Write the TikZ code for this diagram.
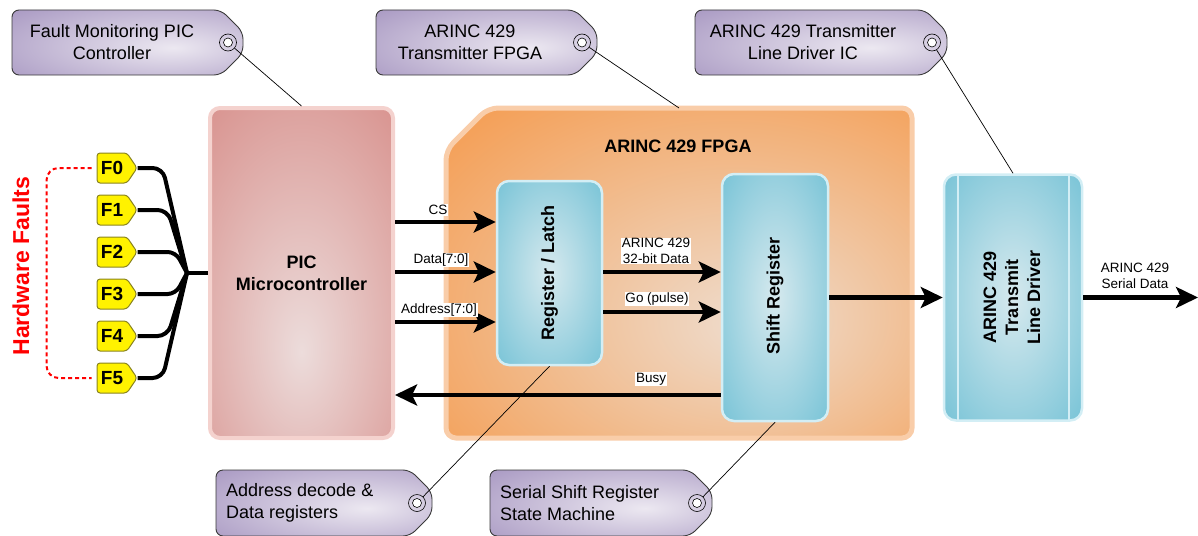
\documentclass[tikz,border=0pt]{standalone}
\usepackage{fontspec}
\setmainfont{Liberation Sans}
\usetikzlibrary{arrows.meta,calc,shapes.symbols}
\definecolor{tagin}{HTML}{ECE8F1}
\definecolor{tagout}{HTML}{A898C2}
\definecolor{tagline}{HTML}{3A3A3A}
\definecolor{pinkin}{HTML}{ECDCDB}
\definecolor{pinkout}{HTML}{D8918D}
\definecolor{pinkborder}{HTML}{F4D2CE}
\definecolor{orin}{HTML}{EEDDCF}
\definecolor{orout}{HTML}{F4A15A}
\definecolor{orborder}{HTML}{F9CDA9}
\definecolor{bluein}{HTML}{D6E9EE}
\definecolor{blueout}{HTML}{6DBFD4}
\definecolor{blueborder}{HTML}{D3EEF5}
\definecolor{ftagborder}{HTML}{8A8420}
\pgfdeclareradialshading{tagsh}{\pgfpoint{10bp}{-4bp}}{color(0bp)=(tagin); color(42bp)=(tagout); color(90bp)=(tagout)}
\pgfdeclareradialshading{picsh}{\pgfpoint{0bp}{-12bp}}{color(0bp)=(pinkin); color(42bp)=(pinkout); color(90bp)=(pinkout)}
\pgfdeclareradialshading{fpgash}{\pgfpoint{8bp}{-8bp}}{color(0bp)=(orin); color(38bp)=(orout); color(90bp)=(orout)}
\pgfdeclareradialshading{bluesh}{\pgfpoint{0bp}{0bp}}{color(0bp)=(bluein); color(40bp)=(blueout); color(90bp)=(blueout)}
\newcommand\mytag[5]{%
  \draw[tagbox] ({#4-22},#3) -- (#2,#3) -- (#2,#5) -- ({#4-22},#5) -- (#4,{#5-22}) -- (#4,{#3+22}) -- cycle;
  \node[holeout] (#1) at ({#4-15},{(#3+#5)/2}) {};
  \node[holein] at (#1) {};
}
\begin{document}
\begin{tikzpicture}[x=1pt,y=-1pt,
  tagbox/.style={draw=tagline, line width=0.9pt, shading=tagsh, rounded corners=7pt},
  holeout/.style={circle, draw=black, line width=0.6pt, minimum size=17pt, inner sep=0pt},
  holein/.style={circle, draw=black, fill=white, line width=0.6pt, minimum size=9pt, inner sep=0pt},
  tagtext/.style={font=\fontsize{18}{22}\selectfont, inner sep=0pt},
  leader/.style={line width=0.7pt, draw=black},
  bold18/.style={font=\bfseries\fontsize{18}{22}\selectfont, align=center, inner sep=0pt},
  picbox/.style={draw=pinkborder, line width=4pt, shading=picsh, rounded corners=10pt},
  fpgabox/.style={draw=orborder, line width=5pt, shading=fpgash, rounded corners=10pt},
  bluebox/.style={draw=blueborder, line width=2.5pt, shading=bluesh, rounded corners=12pt},
  bus/.style={line width=4.5pt, -{Stealth[length=22pt,width=21pt,inset=5pt]}},
  lbl/.style={fill=white, inner sep=0.8pt, font=\fontsize{13.5}{15.5}\selectfont, align=center},
  ftag/.style={shape=signal, signal to=east, signal pointer angle=112, draw=ftagborder, fill=yellow,
     line width=1pt, minimum width=40pt, minimum height=30pt, inner sep=0pt,
     font=\bfseries\fontsize{19}{22}\selectfont, rounded corners=3pt},
  fline/.style={line width=4pt, rounded corners=10pt}
]
\useasboundingbox (0,0) rectangle (1198,535);

% main blocks
\node[picbox, minimum width=183pt, minimum height=330pt] (pic) at (301.5,273) {};
\node[bold18] (pict) at (301.5,273) {PIC\\Microcontroller};

\node[minimum width=466pt, minimum height=330pt, inner sep=0pt, outer sep=0pt] (fpga) at (679,273) {};
\draw[fpgabox] ($(fpga.north west)+(42,0)$) -- (fpga.north east) -- (fpga.south east)
  -- (fpga.south west) -- ($(fpga.north west)+(0,42)$) -- cycle;
\node[bold18] (fpgat) at (678,146) {ARINC 429 FPGA};

\node[bluebox, minimum width=105pt, minimum height=184pt] (reg) at (549.5,273) {};
\node[bold18, rotate=90] (regt) at (549.5,273) {Register / Latch};

\node[bluebox, minimum width=106pt, minimum height=247pt] (shift) at (775,297.5) {};
\node[bold18, rotate=90] (shiftt) at (775,296) {Shift Register};

\node[bluebox, minimum width=138pt, minimum height=246pt] (drv) at (1013,297.5) {};
\draw[draw=blueborder, line width=2pt] ($(drv.north west)+(15,1)$) -- ($(drv.south west)+(15,-1)$);
\draw[draw=blueborder, line width=2pt] ($(drv.north east)+(-14,1)$) -- ($(drv.south east)+(-14,-1)$);
\node[bold18, rotate=90] (drvt) at (1012,297.5) {ARINC 429\\Transmit\\Line Driver};

% fault inputs
\foreach \i/\y in {0/168,1/210,2/252,3/294,4/336,5/378}{
  \node[ftag] (f\i) at (112,\y) {F\i};
}
\coordinate (jn) at (187,273);
\draw[fline] (f0.east) -- ++(25,0) -- (jn);
\draw[fline] (f1.east) -- ++(30,0) -- (jn);
\draw[fline, rounded corners=8pt] (f2.east) -- ++(38,0) -- (jn);
\draw[fline, rounded corners=8pt] (f3.east) -- ++(38,0) -- (jn);
\draw[fline] (f4.east) -- ++(30,0) -- (jn);
\draw[fline] (f5.east) -- ++(25,0) -- (jn);
\draw[line width=4pt] (jn) -- (jn -| pic.west);

\draw[red, line width=2pt, dash pattern=on 4pt off 3pt, rounded corners=12pt]
  ($(f0.west)+(-5,0)$) -- ++(-45,0) |- ($(f5.west)+(-5,0)$);
\node[text=red, font=\bfseries\fontsize{23}{26}\selectfont, rotate=90, inner sep=0pt] (hw) at (21,266) {Hardware Faults};

% buses
\draw[bus] ($(pic.east)+(0,-51)$) -- ($(reg.west)+(0,-51)$);
\draw[bus] ($(pic.east)+(0,-1)$) -- ($(reg.west)+(0,-1)$);
\draw[bus] ($(pic.east)+(0,49)$) -- ($(reg.west)+(0,49)$);
\node[lbl] (csl) at (438,210) {CS};
\node[lbl] (dl) at (441,260) {Data[7:0]};
\node[lbl] (al) at (439,310) {Address[7:0]};

\draw[bus] ($(reg.east)+(0,-1)$) -- ($(shift.west)+(0,-25.5)$);
\draw[bus] ($(reg.east)+(0,39)$) -- ($(shift.west)+(0,14.5)$);
\node[lbl] (adl) at (656,251) {ARINC 429\\32-bit Data};
\node[lbl] (gol) at (657,299) {Go (pulse)};

\coordinate (busyS) at ($(shift.west)+(0,97.5)$);
\draw[bus] (busyS) -- (busyS -| pic.east);
\node[lbl] (busyl) at (651,379) {Busy};

\draw[bus] (shift.east |- drv.west) -- (drv.west);
\coordinate (outp) at (1198,297.5);
\draw[bus] (drv.east) -- (outp);
\node[lbl] (serl) at (1135,276) {ARINC 429\\Serial Data};

% tags
\mytag{t1}{12}{10}{243}{75}
\node[tagtext, align=center] (t1t) at (112,42) {Fault Monitoring PIC\\Controller};
\draw[leader] (t1) -- (pic.north);

\mytag{t2}{376}{10}{597}{75}
\node[tagtext, align=center] (t2t) at (470,42) {ARINC 429\\Transmitter FPGA};
\draw[leader] (t2) -- (fpga.north);

\mytag{t3}{695}{10}{947}{75}
\node[tagtext, align=center] (t3t) at (803,42) {ARINC 429 Transmitter\\Line Driver IC};
\draw[leader] (t3) -- (drv.north);

\mytag{t4}{216}{470}{432}{536}
\node[tagtext, align=left, anchor=west] (t4t) at (226,503) {Address decode \&\\Data registers};
\draw[leader] (t4) -- (reg.south);

\mytag{t5}{490}{470}{712}{536}
\node[tagtext, align=left, anchor=west] (t5t) at (500,503) {Serial Shift Register\\State Machine};
\draw[leader] (t5) -- (shift.south);
\end{tikzpicture}
\end{document}
